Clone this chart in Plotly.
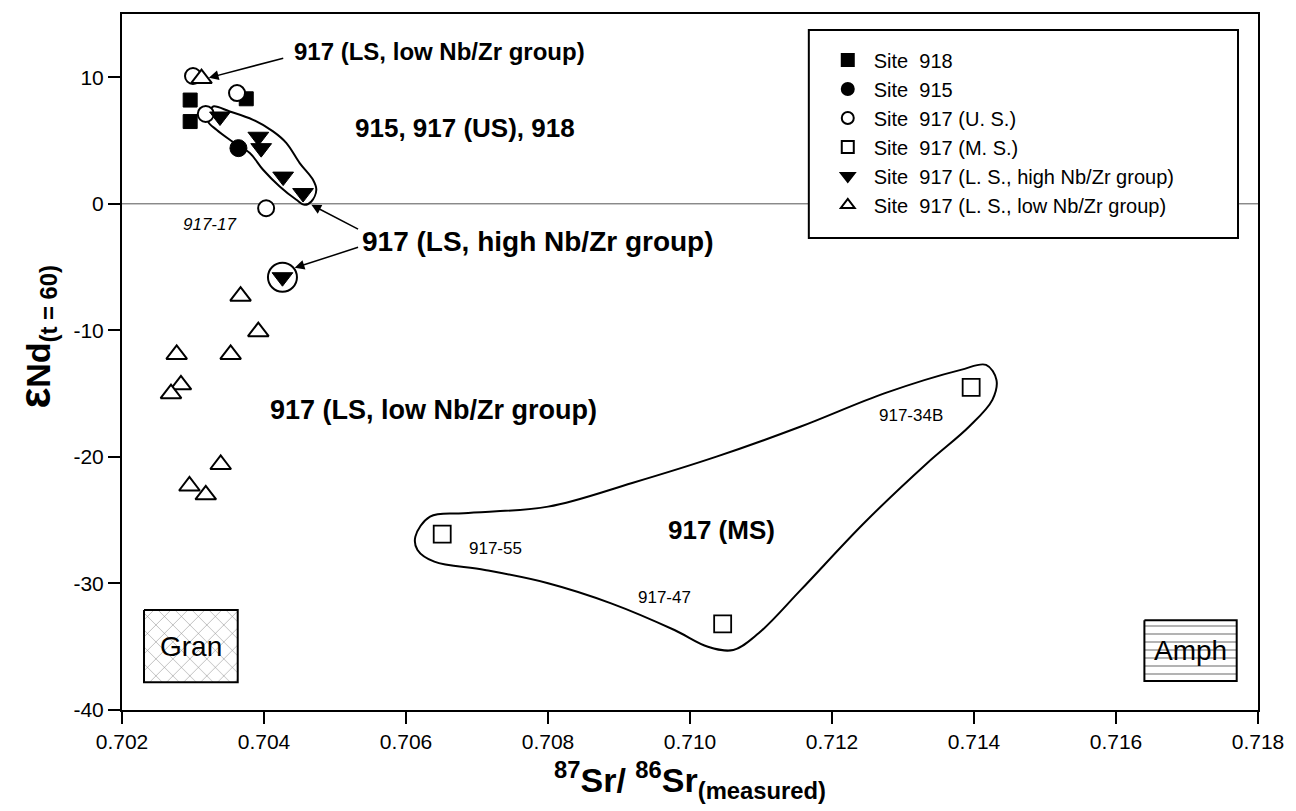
import plotly.graph_objects as go

# ---------------- data ----------------
site918_x = [0.70296, 0.70296, 0.70375]
site918_y = [8.2, 6.5, 8.3]

site915_x = [0.70364]
site915_y = [4.4]

us917_x = [0.70300, 0.70362, 0.70318, 0.70403]
us917_y = [10.1, 8.75, 7.1, -0.35]

ms917_x = [0.70651, 0.71046, 0.71396]
ms917_y = [-26.1, -33.2, -14.5]
ms917_labels = ["917-55", "917-47", "917-34B"]

lshigh_x = [0.70338, 0.70392, 0.70396, 0.70427, 0.70455, 0.70426]
lshigh_y = [6.9, 5.3, 4.4, 2.15, 0.85, -5.8]

lslow_x = [0.70312, 0.70367, 0.70392, 0.70277, 0.70353, 0.70283, 0.70269, 0.70339, 0.70295, 0.70318]
lslow_y = [9.9, -7.3, -10.1, -11.9, -11.9, -14.3, -15.0, -20.6, -22.3, -23.0]

# hand-drawn envelopes
ms_env_x = [0.706132, 0.706339, 0.706814, 0.708001, 0.709185, 0.710373, 0.711561, 0.712746,
            0.713814, 0.714170, 0.714316, 0.714259, 0.713933, 0.713339, 0.712449, 0.711561,
            0.710966, 0.710610, 0.710253, 0.709781, 0.708889, 0.708001, 0.707111, 0.706399,
            0.706162, 0.706132]
ms_env_y = [-26.30, -24.72, -24.45, -23.93, -22.06, -19.98, -17.60, -14.96,
            -13.12, -12.73, -13.91, -15.49, -17.60, -20.50, -25.24, -30.51,
            -33.94, -35.26, -35.00, -33.68, -31.57, -29.98, -28.93, -28.28,
            -27.35, -26.30]

hi_env_x = [0.703284, 0.703518, 0.703846, 0.704127, 0.704316, 0.704503, 0.704690, 0.704737,
            0.704667, 0.704573, 0.704456, 0.704221, 0.703987, 0.703800, 0.703518, 0.703331,
            0.703213, 0.703237, 0.703284]
hi_env_y = [7.69, 7.30, 6.64, 5.72, 4.80, 3.22, 1.90, 1.11,
            0.18, -0.08, 0.32, 1.37, 2.69, 4.01, 5.06, 5.85,
            6.51, 7.30, 7.69]

# reference end-member boxes
gran_x = [0.70231, 0.70363, 0.70363, 0.70231, 0.70231]
gran_y = [-32.1, -32.1, -37.8, -37.8, -32.1]
amph_x = [0.71640, 0.71770, 0.71770, 0.71640, 0.71640]
amph_y = [-32.9, -32.9, -37.7, -37.7, -32.9]

x_ticks = [0.702, 0.704, 0.706, 0.708, 0.710, 0.712, 0.714, 0.716, 0.718]
x_ticktext = ["0.702", "0.704", "0.706", "0.708", "0.710", "0.712", "0.714", "0.716", "0.718"]
y_ticks = [-40, -30, -20, -10, 0, 10]
y_ticktext = ["-40", "-30", "-20", "-10", "0", "10"]

# ---------------- figure ----------------
BASE = "Liberation Sans, Arial, sans-serif"

fig = go.Figure()

# envelopes and boxes (no legend)
fig.add_trace(go.Scatter(x=gran_x, y=gran_y, mode="lines", fill="toself",
                         fillcolor="white", line=dict(color="black", width=2),
                         fillpattern=dict(shape="x", fgcolor="black", bgcolor="white",
                                          size=12, solidity=0.08),
                         showlegend=False, hoverinfo="skip"))
fig.add_trace(go.Scatter(x=amph_x, y=amph_y, mode="lines", fill="toself",
                         fillcolor="white", line=dict(color="black", width=2),
                         fillpattern=dict(shape="-", fgcolor="black", bgcolor="white",
                                          size=8, solidity=0.15),
                         showlegend=False, hoverinfo="skip"))
fig.add_trace(go.Scatter(x=ms_env_x, y=ms_env_y, mode="lines",
                         line=dict(color="black", width=2, shape="spline", smoothing=1.0),
                         showlegend=False, hoverinfo="skip"))
fig.add_trace(go.Scatter(x=hi_env_x, y=hi_env_y, mode="lines",
                         line=dict(color="black", width=2, shape="spline", smoothing=1.0),
                         showlegend=False, hoverinfo="skip"))

fig.add_trace(go.Scatter(x=site918_x, y=site918_y, mode="markers", name="Site\u00a0 918",
                         marker=dict(symbol="square", size=14, color="black",
                                     line=dict(color="black", width=1))))
fig.add_trace(go.Scatter(x=site915_x, y=site915_y, mode="markers", name="Site\u00a0 915",
                         marker=dict(symbol="circle", size=17, color="black",
                                     line=dict(color="black", width=1))))
fig.add_trace(go.Scatter(x=us917_x, y=us917_y, mode="markers", name="Site\u00a0 917 (U. S.)",
                         marker=dict(symbol="circle", size=16, color="white",
                                     line=dict(color="black", width=2))))
fig.add_trace(go.Scatter(x=ms917_x, y=ms917_y, mode="markers", name="Site\u00a0 917 (M. S.)",
                         marker=dict(symbol="square", size=17, color="white",
                                     line=dict(color="black", width=1.8))))
# halo circle around last high-Nb/Zr sample
fig.add_trace(go.Scatter(x=[lshigh_x[-1]], y=[lshigh_y[-1]], mode="markers",
                         marker=dict(symbol="circle", size=29, color="white",
                                     line=dict(color="black", width=2)),
                         showlegend=False, hoverinfo="skip"))
fig.add_trace(go.Scatter(x=lshigh_x, y=lshigh_y, mode="markers",
                         name="Site\u00a0 917 (L. S., high Nb/Zr group)",
                         marker=dict(symbol="triangle-down", size=18, color="black",
                                     line=dict(color="black", width=1))))
fig.add_trace(go.Scatter(x=lslow_x, y=lslow_y, mode="markers",
                         name="Site\u00a0 917 (L. S., low Nb/Zr group)",
                         marker=dict(symbol="triangle-up", size=18, color="white",
                                     line=dict(color="black", width=2))))

# horizontal zero line
fig.add_shape(type="line", xref="paper", x0=0, x1=1, yref="y", y0=0, y1=0,
              line=dict(color="#555555", width=1), layer="below")
# legend frame
fig.add_shape(type="rect", xref="paper", yref="paper", x0=0.6046, x1=0.9824,
              y0=0.6782, y1=0.977, line=dict(color="black", width=2),
              fillcolor="white", layer="above")

ann = []
def label(x, y, text, size=22, bold=True, italic=False, xanchor="center"):
    t = text
    if bold:
        t = "<b>" + t + "</b>"
    if italic:
        t = "<i>" + t + "</i>"
    ann.append(dict(x=x, y=y, xref="x", yref="y", text=t, showarrow=False,
                    xanchor=xanchor, yanchor="middle",
                    font=dict(family=BASE, size=size, color="black")))

def arrow(x_head, y_head, x_tail, y_tail):
    ann.append(dict(x=x_head, y=y_head, xref="x", yref="y", ax=x_tail, ay=y_tail,
                    axref="x", ayref="y", text="", showarrow=True, arrowhead=2,
                    arrowsize=1.3, arrowwidth=1.5, arrowcolor="black", standoff=0))

label(0.70440, 12.0, "917 (LS, low Nb/Zr group)", size=24, xanchor="left")
label(0.70525, 6.0, "915, 917 (US), 918", size=26, xanchor="left")
label(0.70535, -3.0, "917 (LS, high Nb/Zr group)", size=28, xanchor="left")
label(0.70405, -16.3, "917 (LS, low Nb/Zr group)", size=27, xanchor="left")
label(0.71045, -25.8, "917 (MS)", size=26)
label(0.703237, -1.6, "917-17", size=17, bold=False, italic=True)
label(0.707258, -27.2, ms917_labels[0], size=17, bold=False)
label(0.709635, -31.1, ms917_labels[1], size=17, bold=False)
label(0.713107, -16.7, ms917_labels[2], size=17, bold=False)
label(0.70297, -34.95, "Gran", size=28, bold=False)
label(0.71705, -35.3, "Amph", size=28, bold=False)

arrow(0.703223, 9.96, 0.704292, 11.54)
arrow(0.704667, -0.08, 0.705346, -2.06)
arrow(0.704432, -5.06, 0.705346, -3.4)

# y-axis title as annotation
ann.append(dict(x=-0.076, y=0.536, xref="paper", yref="paper", textangle=-90,
                showarrow=False, xanchor="center", yanchor="middle",
                text="<b><span style='font-size:44px'>\u03b5</span>Nd<sub>(t = 60)</sub></b>",
                font=dict(family=BASE, size=34, color="black")))

fig.update_layout(
    width=1296, height=811,
    margin=dict(l=122, r=36, t=14, b=101),
    paper_bgcolor="white", plot_bgcolor="white",
    font=dict(family=BASE, size=21, color="black"),
    annotations=ann,
    showlegend=True,
    legend=dict(x=0.616, y=0.962, xanchor="left", yanchor="top",
                bgcolor="rgba(0,0,0,0)", borderwidth=0,
                font=dict(family=BASE, size=20, color="black"),
                itemsizing="constant", itemwidth=42, tracegroupgap=0),
    xaxis=dict(range=[0.702, 0.718], tickvals=x_ticks, ticktext=x_ticktext,
               showgrid=False, zeroline=False, showline=True, mirror=True,
               linecolor="black", linewidth=2, ticks="outside", ticklen=12,
               tickwidth=2, tickcolor="black",
               tickfont=dict(family=BASE, size=21),
               title=dict(text="<b><sup>87</sup>Sr/ <sup>86</sup>Sr<sub>(measured)</sub></b>",
                          font=dict(family=BASE, size=34), standoff=16)),
    yaxis=dict(range=[-40, 15], tickvals=y_ticks, ticktext=y_ticktext,
               showgrid=False, zeroline=False, showline=True, mirror=True,
               linecolor="black", linewidth=2, ticks="outside", ticklen=12,
               tickwidth=2, tickcolor="black",
               tickfont=dict(family=BASE, size=21)),
)

fig.write_html("out.html")
